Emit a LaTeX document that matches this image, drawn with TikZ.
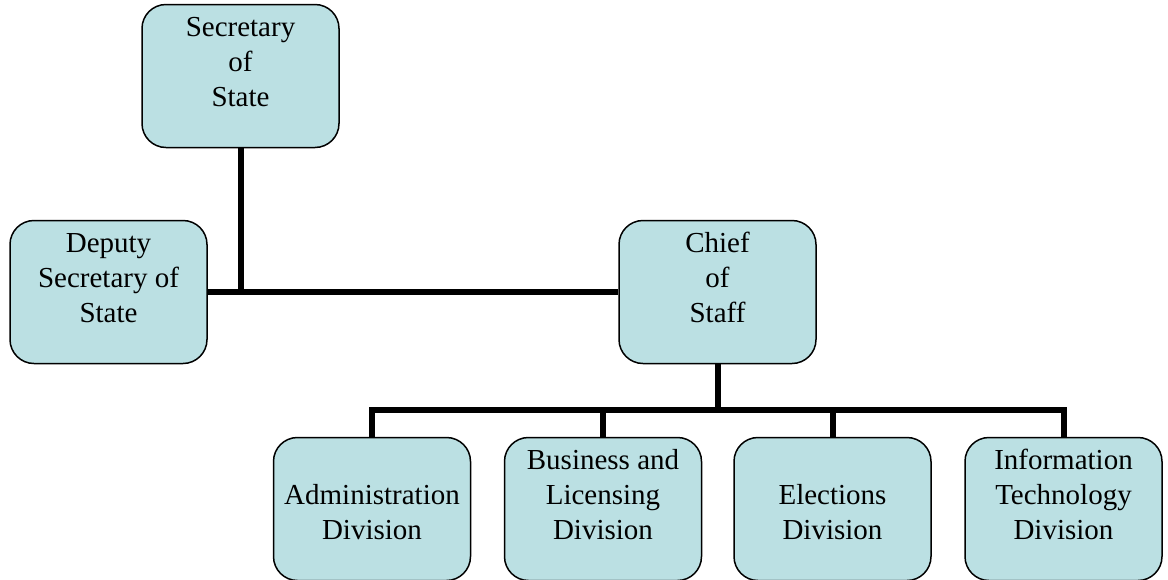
\documentclass[tikz,border=0pt]{standalone}
\usepackage{fontspec}
\setmainfont{Liberation Serif}
\newfontfamily\orgfont{Liberation Serif}
\usetikzlibrary{positioning}
\definecolor{orgfill}{HTML}{BBE0E3}

\tikzset{
  office/.style={draw=black, line width=1.5pt, fill=orgfill, rounded corners=24pt,
    minimum width=197pt, minimum height=143pt, inner sep=0pt, align=center,
    font=\orgfont\fontsize{29}{35}\selectfont, text height=70pt, text depth=9pt},
  conn/.style={draw=black, line width=6pt}
}

\begin{document}
\begin{tikzpicture}[x=1pt, y=-1pt]
\useasboundingbox (0,0) rectangle (1168,579);
\clip (0,0) rectangle (1168,579);

% top level
\node[office] (sec) at (240.5,76) {Secretary\\of\\State};
\node[office] (dep) at (108.5,292) {Deputy\\Secretary of\\State};
\node[office] (cos) at (717.5,292) {Chief\\of\\Staff};

% divisions
\node[office] (adm) at (372,509) {Administration\\Division};
\node[office] (bus) at (603,509) {Business and\\Licensing\\Division};
\node[office] (ele) at (832.5,509) {Elections\\Division};
\node[office] (itd) at (1063.5,509) {Information\\Technology\\Division};

% connectors
\coordinate (rail) at (717.5,410);
\draw[conn] (dep.east) -- (cos.west);
\draw[conn] (sec.south) -- (sec.south |- dep.east);
\draw[conn] (cos.south) -- (rail);
\draw[conn] (adm.north) |- (rail) -| (itd.north);
\foreach \d in {bus, ele} {
  \draw[conn] (\d.north) -- (\d.north |- rail);
}

\end{tikzpicture}
\end{document}
